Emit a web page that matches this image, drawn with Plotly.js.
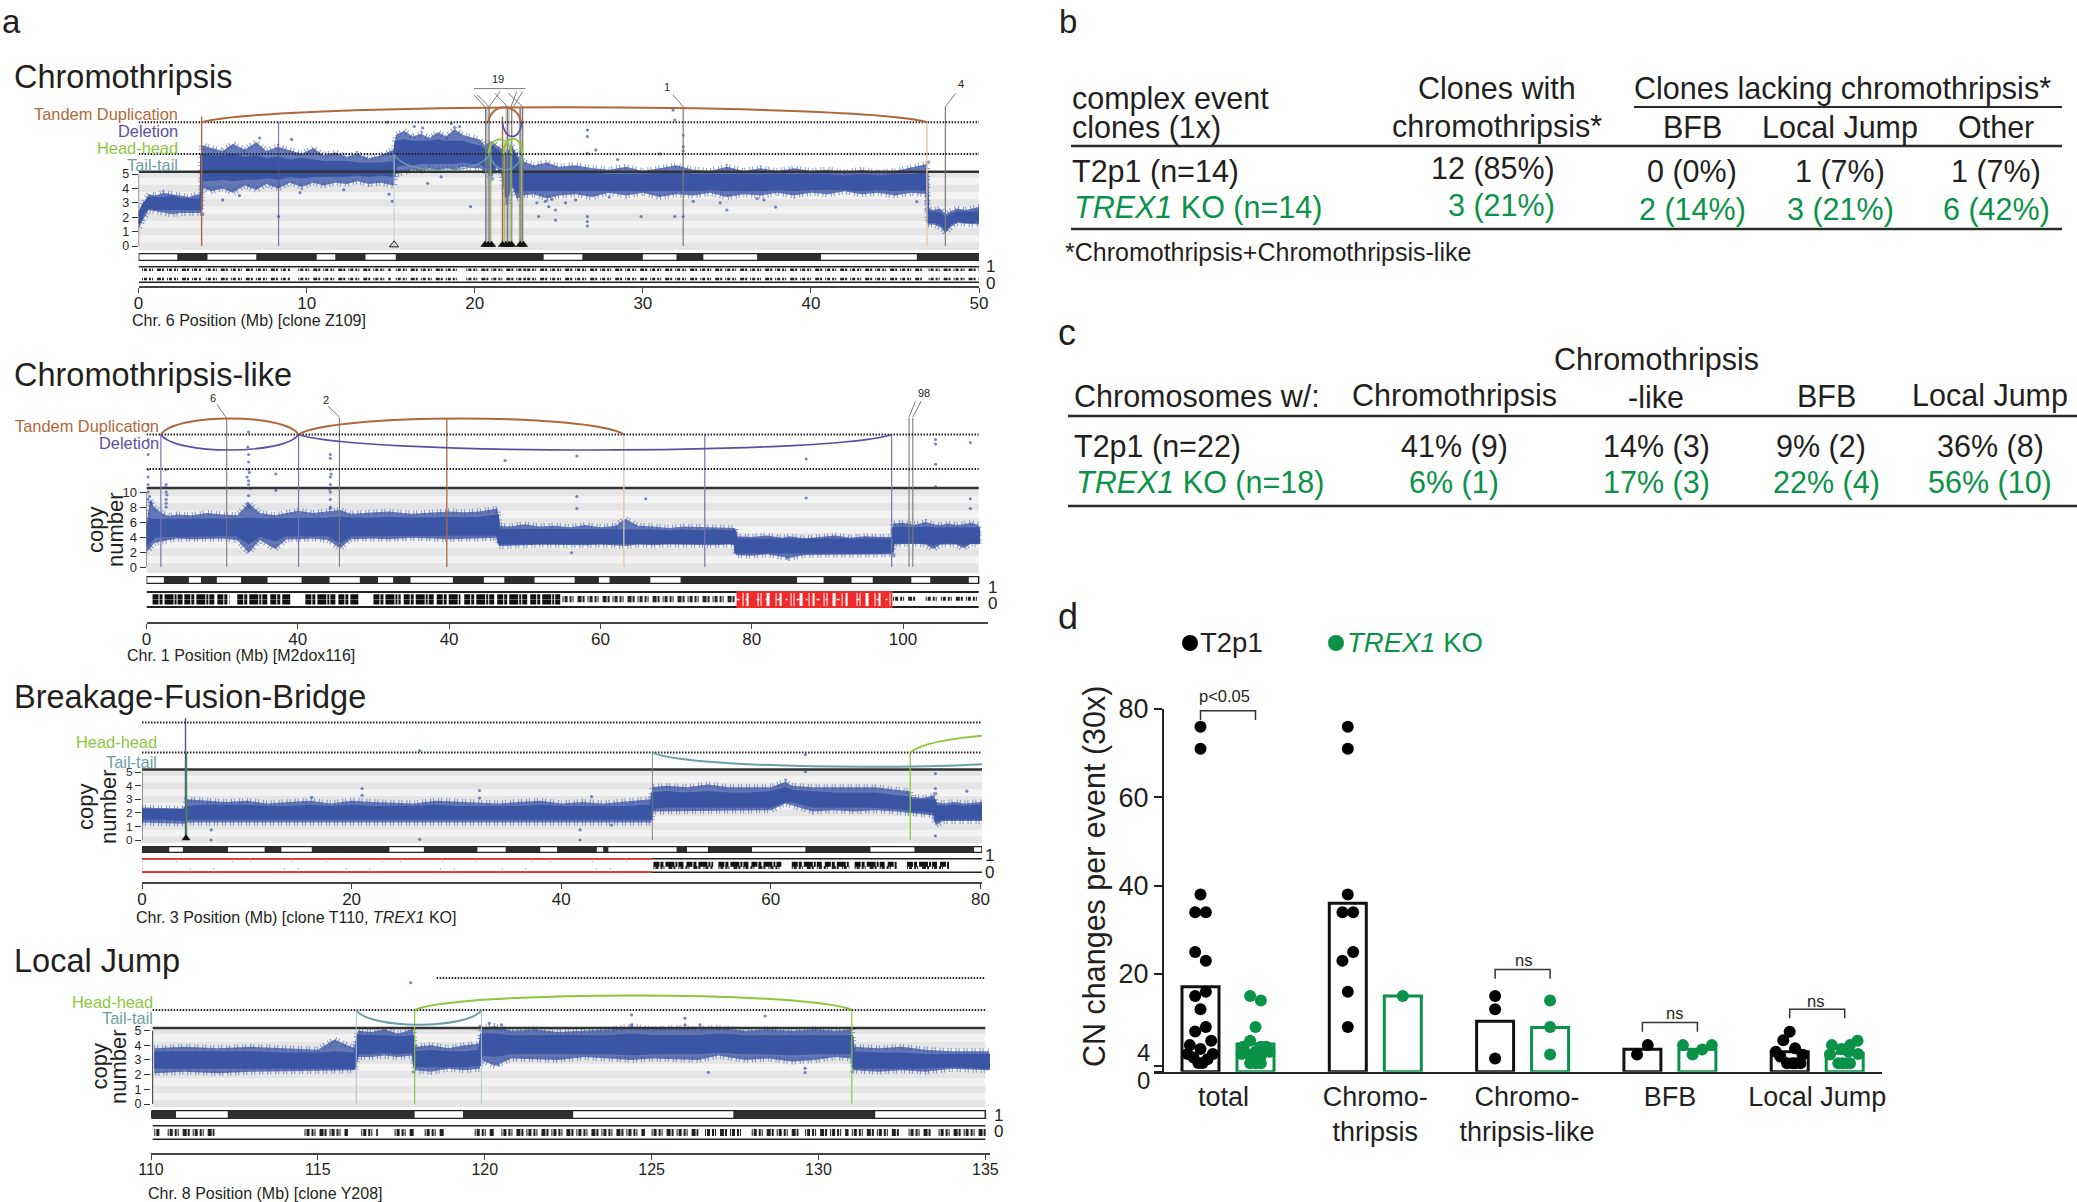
<!DOCTYPE html>
<html><head><meta charset="utf-8">
<script src="https://cdn.plot.ly/plotly-3.0.1.min.js"></script>
<style>html,body{margin:0;padding:0;background:#fff}</style></head>
<body><div id="chart" style="width:2077px;height:1202px"></div>
<script>
/* ---------- panel d values ---------- */
const dCategories=['total','Chromo-<br>thripsis','Chromo-<br>thripsis-like','BFB','Local Jump'];
const dMeanT2p1=[17.1,36,9.3,2.95,2.4];
const dMeanTrex=[4.15,15,7.9,2.95,2.05];
const dT2p1Total=[76,71,38,34,34,25,23,16,15,12,8,7,4.9,3.9,3,1.9,1.9,1.1,0.7,-0.15,-0.15];
const dT2p1TotalOff=[0,0,0,-1,1,-1,1,1,-1,0,1,-1,2,-2,0,2.3,-2.4,-1.3,1.3,-0.4,0.4];
const dTrexTotal=[15,14,8,4.9,3.55,3.55,3.55,2.4,2.4,2.4,1.9,1.45,1.45,0.7,0.7,-0.2,-0.2,-0.2];
const dTrexTotalOff=[-1,1,0,-1,-2.3,1,2,-2,0,2.6,-2.6,-1,1,-0.5,0.5,-1,0,1];
const dT2p1Chromo=[76,71,38,34,34,25,23,16,8];
const dT2p1ChromoOff=[0,0,0,-1,1,1,-1,0,0];
const dTrexChromo=[15];
const dTrexChromoOff=[0];
const dT2p1Like=[15,12,0.85];
const dT2p1LikeOff=[0,0,0];
const dTrexLike=[14,8,1.8];
const dTrexLikeOff=[0,0,0];
const dT2p1Bfb=[3.9,1.8];
const dT2p1BfbOff=[1,-1];
const dTrexBfb=[3.9,1.8,2.9,3.9];
const dTrexBfbOff=[-2.7,-0.9,0.9,2.7];
const dT2p1Jump=[6.9,5,3.2,2.4,1.7,1.3,-0.2,-0.2,-0.2,-0.2];
const dT2p1JumpOff=[0,-1.2,1,-2.6,2.4,-1.75,-0.5,0.5,1,2];
const dTrexJump=[4.9,3.9,3.9,3,2.4,1.9,1.8,-0.2,-0.2,-0.2,-0.2];
const dTrexJumpOff=[2.4,-2.4,1,-0.6,0.7,2.5,-2.75,-1.2,-0.4,0.4,1];
const dTicks=[20,40,60,80];

/* ---------- tables ---------- */
const bRowNames=['T2p1 (n=14)','<i>TREX1</i> KO (n=14)'];
const bClonesWith=['12 (85%)','3 (21%)'];
const bBfb=['0 (0%)','2 (14%)'];
const bJump=['1 (7%)','3 (21%)'];
const bOther=['1 (7%)','6 (42%)'];
const cRowNames=['T2p1 (n=22)','<i>TREX1</i> KO (n=18)'];
const cChromo=['41% (9)','6% (1)'];
const cLike=['14% (3)','17% (3)'];
const cBfb=['9% (2)','22% (4)'];
const cJump=['36% (8)','56% (10)'];

/* ---------- panel a.1: chr6 copy number envelopes ---------- */
const p1X=[0,.3,.6,1,1.5,2,2.5,3,3.5,3.72, 3.75,4.3,5,5.6,6.3,7,7.6,8.3,9,9.7,10.4,11,11.7,12.4,13,13.7,14.4,15.2, 15.3,15.8,16.3,16.8,17.3,17.8,18.3,18.8,19.3,19.8,20.3,20.6, 21,21.3,21.6,21.9,22.2,22.5,22.8, 22.85,23.5,24.3,25,26,27,28,29,30,31,32,33,34,35,36,37,38,39,40,41,42,43,44,45,46,46.9, 46.95,47.3,47.7,48,48.3,48.7,49.2,49.7,50];
const p1OutHi=[2.4,3.1,3.6,3.5,3.7,3.6,3.5,3.4,3.6,3.5, 7.0,6.8,6.6,7.1,6.7,7.2,6.6,6.9,6.6,6.4,6.8,6.3,6.5,6.2,6.4,6.1,6.3,6.7, 7.7,8.0,7.6,7.8,7.5,7.9,7.6,8.1,7.7,7.6,7.4,7.0, 7.3,7.0,6.8,6.5,7.0,6.4,5.8, 5.9,5.6,5.8,5.5,5.6,5.4,5.3,5.5,5.2,5.4,5.6,5.3,5.2,5.5,5.2,5.4,5.2,5.4,5.2,5.3,5.1,5.3,5.1,5.2,5.5,5.7, 2.6,2.5,2.6,2.2,2.4,2.6,2.5,2.6,2.7];
const p1OutLo=[1.2,1.9,2.5,2.4,2.3,2.2,2.3,2.4,2.3,2.3, 4.1,3.8,4.0,3.7,4.2,3.9,4.3,4.0,4.4,4.1,4.4,4.2,4.4,4.3,4.5,4.3,4.4,4.2, 5.0,5.1,5.3,5.2,5.4,5.2,5.4,5.3,5.5,5.4,5.4,5.2, 4.8,5.4,5.0,2.8,4.2,3.3,3.4, 3.5,3.6,3.3,3.5,3.6,3.4,3.7,3.5,3.7,3.4,3.6,3.5,3.7,3.4,3.6,3.5,3.7,3.5,3.7,3.6,3.8,3.6,3.7,3.5,3.7,3.6, 1.5,1.5,1.3,0.9,1.3,1.6,1.5,1.5,1.5];
const p1InHi=[2.1,2.9,3.3,3.3,3.3,3.4,3.2,3.2,3.2,3.2, 6.3,6.2,6.2,6.3,6.1,6.2,6.0,6.1,5.9,6.0,5.9,5.8,5.8,5.8,5.7,5.7,5.7,5.8, 7.2,7.3,7.2,7.2,7.2,7.3,7.2,7.2,7.2,7.0,6.9,6.6, 6.9,6.6,6.4,6.1,6.6,6.0,5.4, 5.0,5.0,5.0,5.0,5.0,5.0,4.9,4.9,4.9,5.0,5.0,4.9,4.9,4.9,4.9,4.9,4.9,4.9,4.9,4.9,4.8,4.9,4.8,4.9,4.9,5.0, 2.3,2.3,2.2,1.9,2.1,2.3,2.3,2.3,2.3];
const p1InLo=[1.6,2.3,2.7,2.6,2.6,2.6,2.6,2.6,2.6,2.6, 4.7,4.6,4.7,4.6,4.7,4.7,4.8,4.7,4.9,4.8,4.9,4.9,4.9,4.9,5.0,4.9,5.0,4.9, 5.6,5.7,5.7,5.8,5.8,5.8,5.8,5.8,5.9,5.8,5.8,5.6, 5.2,5.8,5.4,3.4,4.8,3.8,3.8, 3.9,3.9,3.9,3.9,3.9,3.9,3.9,3.9,3.9,3.9,3.9,3.9,4.0,3.9,3.9,3.9,4.0,3.9,4.0,4.0,4.0,3.9,4.0,3.9,4.0,3.9, 1.7,1.7,1.6,1.2,1.6,1.8,1.7,1.7,1.8];
const p1StrayX=[8.33,31.9,32.4,29.9,26.7,26.7,26.7,31.9,32.4,31.8,26.7,26.7,27.2,26.7,24.8,24.8,23.8,23.7,24.4,5,19.75,17.2,16.4,19.1,14.8,35,37.9,34.6,46.3,24.2,24.6,25.4,26,28,28.5,31,32.4,32.4,33,36.8,37.2,6,7.2,9.1,9.6,12.2,14.9,15.1,16.9,18,18.6];
const p1StrayY=[2.04,2.04,2.04,2.04,2.04,1.7,1.39,8.75,7.7,9.44,8.05,7.6,6.67,6.43,1.8,2.5,2.04,3,2.73,3.2,2.73,4.35,8.3,8.3,8.6,2.5,2.7,3,3.08,3.1,3.25,3,3.2,3.4,6,6.4,6.6,6.9,3.1,3.3,3.2,3.5,7.5,7.4,3.7,3.9,3.6,3.1,8.2,4.8,8.5];
const p1Dark0=[2.3,7.0,11.7,15.3,26.4,32.0,36.8,46.3];
const p1Dark1=[4.1,10.6,13.5,24.1,30.0,33.6,40.6,50];
const p1Tandem=[[3.75,46.9,9.63],[20.8,22.75,9.63]];
const p1Deletion=[[21.65,22.8,7.6]];
const p1HeadHead=[[20.8,22.2,7.4],[21.7,22.85,7.45]];
const p1TailTail=[[15.2,20.9,5.25],[20.9,22.8,5.3]];
const p1GrayLines=[20.65,20.85,21.95,22.2,22.7,22.85,32.4,48.0];
const p1BrownLines=[3.75,21.65];
const p1PeachLines=[46.9];
const p1PurpleLines=[8.33];
const p1TealLines=[15.2];
const p1GreenLines=[20.95,21.75,22.15,22.78];
const p1Columns=[20.75,21.95,22.75];
const p1Leaders=[[20.6,9.67,19.95,10.5],[20.85,9.67,20.15,10.5],[20.85,9.67,21.5,10.72],[21.95,9.67,21.2,10.6],[22.15,9.67,22.5,10.72],[22.85,9.67,22.0,10.6],[22.3,9.67,22.85,10.72],[32.4,9.67,31.8,10.49],[48,9.67,48.6,10.6],[19.95,10.93,23,10.93]];
const p1Hollow=[15.2];
const p1Solid=[20.6,20.8,21.0,21.65,21.85,22.05,22.2,22.7,22.9];
const p1LohStart=[0.2,4,9.5,15.3,19.5,23,47];
const p1LohEnd=[3.7,9,15,19,23,46.6,50];

/* ---------- panel a.2: chr1 ---------- */
const p2X=[0,.5,1,2,3,4,6,8,10,12,13.5,15,17,18.5,20,22,24,25.6,27,30,32,35,38,40,42,44,46.4, 46.6,48,50,52,54,56,58,60,62,63.3,65,67,69,71,73,75,77,77.8, 77.9,80,82,84,85,87,89,91,93,95,97,98.6, 98.7,100,101.5,103,104,105,106,107,108,109,110];
const p2OutHi=[6,9,8,7.2,6.8,7,6.9,7.2,7,6.9,8.5,7.2,6.9,7.1,7.5,7.2,7.4,7.6,7.1,7.3,7.4,7.1,7.3,7.4,7.3,7.4,7.8, 5.5,5.4,5.7,5.4,5.5,5.3,5.6,5.3,5.5,6.4,5.5,5.4,5.2,5.4,5.3,5.4,5.3,5.2, 4.1,4,4.2,3.9,4.1,3.8,4,4.2,3.9,4.1,4,4, 5.8,5.9,5.6,6,5.7,5.6,5.8,5.6,5.7,5.9,5.6];
const p2OutLo=[2,2.5,3.2,3.6,3.6,3.8,3.7,3.7,3.8,3.6,1.9,3.6,2.4,3.7,3.7,3.8,3.6,2.5,3.7,3.8,3.7,3.9,3.8,3.7,3.9,3.8,3.9, 2.8,2.9,2.9,3,2.9,3,2.9,3,2.9,2.8,3,2.9,3,2.9,3,2.9,3,2.9, 1.6,1.5,1.7,1.4,1.2,1.6,1.7,1.6,1.7,1.7,1.7,1.7, 3,3,3.1,3,2.4,3,3.1,3,2.5,3.1,3];
const p2InHi=[5,6.3,6.2,6.2,6.2,6.2,6.3,6.3,6.3,6.3,6.4,6.3,6.3,6.3,6.4,6.4,6.4,6.5,6.4,6.4,6.5,6.4,6.4,6.5,6.4,6.5,6.8, 4.9,4.9,4.9,4.8,4.9,4.8,4.9,4.8,4.8,4.9,4.8,4.8,4.7,4.8,4.7,4.8,4.7,4.7, 3.6,3.6,3.6,3.5,3.5,3.5,3.5,3.5,3.5,3.6,3.6,3.6, 5.1,5.2,5.1,5.2,5.1,5.1,5.1,5.1,5.1,5.2,5.1];
const p2InLo=[3,3.4,4.1,4.2,4.2,4.3,4.3,4.3,4.3,4.3,3.2,4.3,3.6,4.3,4.3,4.3,4.3,3.4,4.3,4.4,4.3,4.4,4.4,4.4,4.4,4.4,4.4, 3.2,3.3,3.3,3.3,3.3,3.3,3.3,3.3,3.3,3.3,3.3,3.3,3.3,3.3,3.3,3.3,3.3,3.3, 2,2,2,2,1.9,2,2,2,2,2,2,2.1, 3.3,3.3,3.3,3.3,3.1,3.3,3.3,3.3,3.1,3.3,3.3];
const p2StrayX=[13.5,13.5,13.5,13.3,13.5,13.7,13.5,13.4,13.6,13.5,13.4,13.6,13.5, 24.3,24.3,24.3,24.3,24.3,24.3,24.3,24.3,24.3,24.4,24.2, 2.6,2.6,2.6,2.6,2.6,2.6,2.7,2.5, .2,.2,.2,.2,.2,.2,.2,.2,.4,.6, 47.4,56.9,87.2,104.3,104.3,108.9,104.3,104.3,56.9,56.9,66,87.2,108.9,108.9,56.2,84.7,17.1,17.1];
const p2StrayY=[15,14,13,12,11.5,10.5,9.5,8.5,8,18,16,12.6,11, 15,14.5,13,12,11,10,9,8,7.8,12.4,10.4, 13,11,10,9,8.5,8,9.6,10.6, 19,17,15,13,12,11,10,9,9.4,8.6, 14.2,14.8,14.4,17,16.4,16.6,13.7,10.7,9.4,7.8,9.1,9.2,9.1,7.8,1.9,1.2,12.4,10.2];
const p2Dark0=[2.3,7.2,12.5,20.5,28.2,32.6,40.5,47.3,56.6,61.2,70.6,89.5,96,103.6];
const p2Dark1=[5.6,9.3,16,24.2,30.6,34.9,44.6,51.3,59.8,66.6,86,93.2,101.1,108.7];
const p2Tandem=[[1.9,20.1,19.8],[20.1,63.1,19.8]];
const p2Deletion=[[1.9,20.1,15.6],[20.1,98.5,15.6]];
const p2GrayLines=[10.6,25.5,100.8,101.3];
const p2BrownLines=[39.7];
const p2PeachLines=[63.1];
const p2PurpleLines=[1.9,20.1,73.8,98.5];
const p2Leaders=[[10.6,19.82,9.3,21.7],[25.5,20,24,21.45],[100.8,20,101.65,22.1],[101.3,20,102.4,22.1]];
const p2LohStart=[0.8,5,12,21,30,34,42];
const p2LohEnd=[4.8,11,19,28,33.6,41.5,55];
const p2ThinStart=[55];
const p2ThinEnd=[78];
const p2RedStart=[78];
const p2RedEnd=[98.6];
const p2SparseStart=[98.7,103,105];
const p2SparseEnd=[102,104.5,110];

/* ---------- panel a.3: chr3 ---------- */
const p3X=[0,2,4,4.3,6,8,10,12,14,16,18,20,22,24,26,28,30,32,34,36,38,40,42,44,46,48,48.6, 48.7,50,52,54,56,58,60,61.4,62,64,66,68,70,72,73.3, 73.4,74.5,75.6, 75.7,76.5,77.5,78.5,79.5,80.2];
const p3OutHi=[2.4,2.4,2.3,3,2.9,2.8,2.9,2.7,2.8,2.9,2.7,2.9,2.8,2.8,2.7,2.9,2.8,2.8,2.7,2.8,2.9,2.7,2.8,2.7,2.8,2.9,3, 3.9,4,3.9,4.1,3.9,3.9,3.9,4.3,4,3.9,3.9,4,3.9,3.7,3.6, 3.2,3.1,3.3, 2.8,2.7,2.8,2.7,2.8,2.8];
const p3OutLo=[1.3,1.3,1.2,1.3,1.4,1.4,1.3,1.4,1.3,1.4,1.3,1.4,1.4,1.3,1.4,1.3,1.4,1.3,1.4,1.3,1.4,1.3,1.4,1.4,1.3,1.3,1.3, 2.1,2.2,2.2,2.1,2.2,2.2,2.2,2.7,2.6,2.1,2.2,2.1,2.2,2.1,2, 1.9,1.9,1.8, 1.1,1.4,1.4,1.3,1.4,1.4];
const p3InHi=[2.2,2.2,2.2,2.4,2.5,2.5,2.5,2.4,2.4,2.5,2.4,2.5,2.4,2.4,2.4,2.5,2.4,2.4,2.4,2.4,2.5,2.4,2.4,2.4,2.4,2.5,2.5, 3.4,3.5,3.4,3.5,3.4,3.4,3.5,3.8,3.6,3.5,3.4,3.4,3.4,3.2,3.1, 2.9,2.9,2.9, 2.5,2.4,2.5,2.4,2.5,2.5];
const p3InLo=[1.6,1.6,1.5,1.6,1.6,1.6,1.6,1.6,1.6,1.6,1.6,1.6,1.6,1.6,1.6,1.6,1.6,1.6,1.6,1.6,1.6,1.6,1.6,1.6,1.6,1.6,1.6, 2.4,2.5,2.5,2.5,2.5,2.5,2.5,2.9,2.9,2.5,2.5,2.5,2.5,2.4,2.3, 2.2,2.2,2.1, 1.5,1.6,1.6,1.6,1.6,1.6];
const p3StrayX=[21,21,32.2,32.2,26.5,6.6,6.6,41.8,41.8,42.9,16.2,63.3,63.3,75.7,75.7,75.7,78.7,26.5,44.8];
const p3StrayY=[3.8,3.3,3.65,3.1,.05,.74,0,.74,0,3.2,3.15,6.3,5.05,4.9,3.8,.3,3.6,6.6,1.1];
const p3Dark0=[0,3.9,11.7,16.2,26.9,34.7,39.6,44,51,54,63.3,73.7];
const p3Dark1=[2.6,8.2,13.3,23.6,32,38,43.4,44.5,52,58.2,69.5,79.4];
const p3HeadHead=[[73.3,100,7.9]];
const p3TailTail=[[48.7,89.3,5.4]];
const p3GreenLines=[73.3];
const p3GrayLines=[48.7];
const p3BlueLines=[4.15];
const p3LateGreen=[4.25];
const p3Solid=[4.2];
const p3RedStart=[0];
const p3RedEnd=[48.7];
const p3LohStart=[48.8,55,62,68,73];
const p3LohEnd=[54.5,61,67.5,72,77];

/* ---------- panel a.4: chr8 ---------- */
const p4X=[110.1,111,112,113,114,115,115.5,116.1, 116.2,116.6,117,117.4,117.85, 117.9,118.4,118.9,119.4,119.85, 119.9,120.3,120.8,121.5,122.2,123,123.8,124.4,125,125.7,126.4,127,127.8,128.5,129.2,129.9,130.5,131, 131.05,131.8,132.5,133.2,134,135.1];
const p4OutHi=[3.8,3.9,3.8,3.9,3.8,3.7,4.4,3.8, 5,4.9,5.1,4.8,5.1, 3.9,4,3.8,4,4.1, 5.2,5.3,5,5.1,4.9,5,5.1,5.3,5.1,5.2,5.1,5.2,5,5.1,5,5.1,5,5.1, 3.9,3.8,3.9,3.7,3.6,3.6];
const p4OutLo=[2.1,2.2,2.1,2.2,2.2,2.3,2.3,2.3, 3.2,3.2,3.3,3.2,3.3, 2.3,2.2,2.4,2.3,2.4, 3,2.6,3.1,3.1,3,3.2,3.1,3,3.1,3.1,3,3.3,3,3.1,2.9,3,3.2,3.1, 2.3,2.2,2.3,2.2,2.4,2.3];
const p4InHi=[3.5,3.5,3.5,3.5,3.4,3.4,3.5,3.4, 4.6,4.6,4.6,4.5,4.6, 3.5,3.6,3.5,3.5,3.6, 4.7,4.7,4.6,4.6,4.6,4.6,4.6,4.7,4.6,4.6,4.6,4.7,4.6,4.6,4.6,4.6,4.6,4.6, 3.5,3.4,3.4,3.3,3.3,3.3];
const p4InLo=[2.5,2.5,2.5,2.5,2.5,2.5,2.5,2.5, 3.5,3.5,3.6,3.5,3.6, 2.6,2.6,2.6,2.6,2.7, 3.4,3.3,3.5,3.5,3.5,3.5,3.5,3.4,3.5,3.5,3.5,3.6,3.5,3.5,3.4,3.5,3.5,3.5, 2.5,2.5,2.5,2.5,2.6,2.5];
const p4StrayX=[117.78,124.4,126,128.4,126.7,129.6,129.6,120.14,120.4,126,126.45,120.5,124.4];
const p4StrayY=[8.27,6.07,5.84,6,2.16,2.43,2.14,5.5,2.66,5.39,5.39,5.4,5.4];
const p4Dark0=[110,112.3,119.35,127.45];
const p4Dark1=[110.75,117.9,122.65,131.7];
const p4HeadHead=[[117.9,131,7.4]];
const p4TailTail=[[116.15,119.9,5.4]];
const p4GreenLines=[117.9,131];
const p4TealLines=[116.15,119.9];
const p4LohStart=[110.1,110.5,114.6,116.3,117.3,118.2,119.7,120.5,125,126.6,128,129.6,131,132.7,133.6];
const p4LohEnd=[110.3,111.9,115.9,116.8,117.9,118.8,120.3,124.8,126.4,127.8,129.4,130.9,132.5,133.4,135.1];

/* ---------- layout constants ---------- */
const W=2077,H=1202;
const INK='#231f20',BLUE='#3b55a5',GREEN='#0b9249';
const BROWN='#b0683a',PEACH='#e8c4a4',PURPLE='#5a4fa2',LIME='#8cc63f',TEAL='#6c9ea3',GRAY='#7a7a7a';
const FONT='"Liberation Sans",Arial,sans-serif';
const SPECK='1px,1px,3px,2px,2px,1px,1px,4px,4px,1px,2px,3px';
const BLOCK='6px,1px,3px,2px,9px,1px,2px,1px,5px,3px';
const px2x=p=>p/W, px2y=p=>1-p/H;
const traces=[],shapes=[],annotations=[];
const layout={width:W,height:H,margin:{l:0,r:0,t:0,b:0},paper_bgcolor:'#fff',plot_bgcolor:'rgba(0,0,0,0)',showlegend:false,barmode:'overlay',font:{family:FONT,color:INK},shapes,annotations,hovermode:false};

function note(text,x,y,size,opt={}){
  annotations.push(Object.assign({text,x:px2x(x),y:px2y(y),xref:'paper',yref:'paper',xanchor:'left',yanchor:'middle',showarrow:false,borderpad:0,font:{size,family:FONT,color:opt.color||INK}},opt.a||{}));
}
const C={a:{xanchor:'center'}},R={a:{xanchor:'right'}},V={a:{xanchor:'center',textangle:-90}};
const line=(xa,ya,x,y,color,width,dash)=>traces.push({type:'scatter',mode:'lines',x,y,xaxis:xa,yaxis:ya,line:{color,width,dash:dash||'solid'},hoverinfo:'skip'});
function band(xa,ya,xs,hi,lo,col,edge){
  traces.push({type:'scatter',mode:'lines',fill:'toself',fillcolor:col,line:Object.assign({width:0,color:col},edge||{}),x:xs.concat(xs.slice().reverse()),y:hi.concat(lo.slice().reverse()),xaxis:xa,yaxis:ya,hoverinfo:'skip'});
}
function vlines(xa,ya,xs,y0,y1,color,width){const x=[],y=[];xs.forEach(v=>{x.push(v,v,null);y.push(y0,y1,null)});line(xa,ya,x,y,color,width)}
function segs(xa,ya,s,e,yv,color,width,dash){const x=[],y=[];s.forEach((v,i)=>{x.push(v,e[i],null);y.push(yv,yv,null)});line(xa,ya,x,y,color,width,dash)}
function leaders(xa,ya,list,color,width){const x=[],y=[];list.forEach(l=>{x.push(l[0],l[2],null);y.push(l[1],l[3],null)});line(xa,ya,x,y,color,width)}
function arcs(xa,ya,list,base,color,width){
  list.forEach(a=>{const w=a[1]-a[0],c=base+(a[2]-base)/0.75;
    shapes.push({type:'path',xref:xa,yref:ya,line:{color,width},path:`M ${a[0]} ${base} C ${a[0]+0.1*w} ${c}, ${a[1]-0.1*w} ${c}, ${a[1]} ${base}`});});
}
function stray(xa,ya,x,y){traces.push({type:'scatter',mode:'markers',x,y,xaxis:xa,yaxis:ya,marker:{size:3.2,color:'rgba(59,85,165,0.7)'},hoverinfo:'skip'})}

function panel(p){
  const n=p.n,xa='x'+(n===1?'':n),yc=3*n-2,yi=3*n-1,yl=3*n;
  const ya='y'+(yc===1?'':yc),yia='y'+yi,yla='y'+yl;
  const suffix=v=>v===1?'':v;
  layout['xaxis'+suffix(n)]={domain:[px2x(p.left),px2x(p.right)],range:p.xr,anchor:'free',position:px2y(p.axisY),showline:true,linecolor:'#444',linewidth:2,ticks:'outside',ticklen:5,tickwidth:1,tickcolor:'#444',tickvals:p.tickvals,ticktext:p.ticktext,tickfont:{size:p.tf||17,family:FONT,color:INK},ticklabelstandoff:-4,showgrid:false,zeroline:false,fixedrange:true,tickangle:0};
  const lo=(p.y0-p.bottom)/p.unit,hi=(p.y0-p.top)/p.unit;
  layout['yaxis'+suffix(yc)]={domain:[px2y(p.bottom),px2y(p.top)],range:[lo,hi],anchor:xa,showline:false,ticks:'outside',ticklen:6,tickwidth:1,tickcolor:'#333',tickvals:p.yticks,ticktext:p.yticks.map(String),tickfont:{size:p.ytf,family:FONT,color:INK},showgrid:false,zeroline:false,fixedrange:true};
  layout['yaxis'+yi]={domain:[px2y(p.ideo[1]),px2y(p.ideo[0])],range:[-.5,.5],anchor:xa,visible:false,fixedrange:true};
  layout['yaxis'+yl]={domain:[px2y(p.loh[1]),px2y(p.loh[0])],range:[0,1],anchor:xa,visible:false,fixedrange:true};
  const s=p.stripe; const xe=p.end, xs=p.start;
  shapes.push({type:'rect',layer:'below',xref:xa,yref:ya,x0:xs,x1:xe,y0:lo,y1:p.ceil,fillcolor:'#f3f3f3',line:{width:0}});
  for(let v=-s/2;v<p.ceil-s/4;v+=2*s){shapes.push({type:'rect',layer:'below',xref:xa,yref:ya,x0:xs,x1:xe,y0:v===-s/2?lo:v,y1:Math.min(v+s,p.ceil),fillcolor:'#e5e5e5',line:{width:0}});}
  shapes.push({type:'line',xref:xa,yref:ya,x0:p.dotFrom||xs,x1:xe,y0:p.dot[0],y1:p.dot[0],line:{color:'#222',width:2,dash:'1.5px,1.5px'}});
  shapes.push({type:'line',xref:xa,yref:ya,x0:xs,x1:xe,y0:p.dot[1],y1:p.dot[1],line:{color:'#222',width:2,dash:'1.5px,1.5px'}});
  /* copy number cloud: stippled outer edge, then a solid core */
  band(xa,ya,p.X,p.OutHi,p.OutLo,'rgba(59,85,165,0.78)',{width:6,color:'rgba(59,85,165,0.6)',dash:'1px,2px,1px,4px'});
  band(xa,ya,p.X,p.InHi,p.InLo,BLUE,{width:3,color:BLUE});
  stray(xa,ya,p.StrayX,p.StrayY);
  line(xa,ya,[xs,xe],[p.ceil,p.ceil],'#333',2.5);
  traces[traces.length-1].cliponaxis=false;
  line(xa,ya,[xs,xs],[0,p.yticks[p.yticks.length-1]],'#333',1);
  traces[traces.length-1].cliponaxis=false;
  shapes.push({type:'rect',xref:xa,yref:yia,layer:'below',x0:xs,x1:xe,y0:-.44,y1:.44,fillcolor:'#fff',line:{color:'#222',width:1.5}});
  traces.push({type:'bar',orientation:'h',y:p.Dark0.map(()=>0),x:p.Dark1.map((v,i)=>v-p.Dark0[i]),base:p.Dark0,width:.9,xaxis:xa,yaxis:yia,marker:{color:'#2e2e2e',line:{width:0}},hoverinfo:'skip'});
  line(xa,yla,[xs,xe],[.96,.96],'#222',p.rail||1.6);
  line(xa,yla,[xs,xe],[.04,.04],'#222',p.rail||1.6);
  note(p.title,13,p.titleY,32.5);
  note(p.xtitle,p.xtitleX,p.xtitleY,16);
  note('1',p.oneX,p.oneY,17,C);
  note('0',p.oneX,p.zeroY,17,C);
  return {xa,ya,yla,yia};
}

/* ---------- panel a.1 ---------- */
{
 const a=panel({n:1,ytf:12.5,left:138.6,right:979,xr:[0,50],start:0,end:50,y0:246,unit:14.4,top:70,bottom:250,ceil:5.15,stripe:.5,dot:[8.6,6.39],ideo:[253,261],loh:[266,283],axisY:287,tickvals:[0,10,20,30,40,50],yticks:[0,1,2,3,4,5],X:p1X,OutHi:p1OutHi,OutLo:p1OutLo,InHi:p1InHi,InLo:p1InLo,StrayX:p1StrayX,StrayY:p1StrayY,Dark0:p1Dark0,Dark1:p1Dark1,title:'Chromothripsis',titleY:77,xtitle:'Chr. 6 Position (Mb) [clone Z109]',xtitleX:131,xtitleY:320,oneX:990,oneY:266,zeroY:283});
 vlines(a.xa,a.ya,p1Columns,0,9.63,'rgba(140,140,140,0.4)',4.5);
 vlines(a.xa,a.ya,p1GrayLines,0,9.67,GRAY,1.2);
 vlines(a.xa,a.ya,p1BrownLines,0,9,BROWN,1.4);
 vlines(a.xa,a.ya,p1PeachLines,0,8.6,PEACH,1.4);
 vlines(a.xa,a.ya,p1PurpleLines,0,8.6,PURPLE,.9);
 vlines(a.xa,a.ya,p1TealLines,0,6.39,'#b8d2d4',1);
 vlines(a.xa,a.ya,p1GreenLines,0,7.2,'#93b866',1.3);
 leaders(a.xa,a.ya,p1Leaders,GRAY,1);
 arcs(a.xa,a.ya,p1Tandem,8.6,BROWN,2);
 arcs(a.xa,a.ya,p1Deletion,8.6,PURPLE,1.6);
 arcs(a.xa,a.ya,p1HeadHead,6.39,LIME,1.8);
 arcs(a.xa,a.ya,p1TailTail,6.39,TEAL,1.4);
 traces.push({type:'scatter',mode:'markers',x:p1Hollow,y:p1Hollow.map(()=>.08),xaxis:a.xa,yaxis:a.ya,cliponaxis:false,marker:{symbol:'triangle-up-open',size:8,color:'#222',line:{width:1}}});
 traces.push({type:'scatter',mode:'markers',x:p1Solid,y:p1Solid.map(()=>.08),xaxis:a.xa,yaxis:a.ya,cliponaxis:false,marker:{symbol:'triangle-up',size:8,color:'#111'}});
 segs(a.xa,a.yla,p1LohStart,p1LohEnd,.78,'#222',2.5,SPECK);
 segs(a.xa,a.yla,p1LohStart,p1LohEnd,.24,'#222',2.5,SPECK);
 note('Tandem Duplication',178.7,114,16.4,{color:BROWN,a:{xanchor:'right'}});
 note('Deletion',178.7,131,16.4,{color:PURPLE,a:{xanchor:'right'}});
 note('Head-head',178.7,147.7,16.4,{color:LIME,a:{xanchor:'right'}});
 note('Tail-tail',178.7,165,16.4,{color:TEAL,a:{xanchor:'right'}});
 note('19',498,79,11,C); note('1',667,87,11,C); note('4',961,84,11,C);
}
/* ---------- panel a.2 ---------- */
{
 const a=panel({n:2,ytf:13,left:146.5,right:987.5,xr:[0,111.17],start:0,end:110,y0:567,unit:7.5,top:380,bottom:573,ceil:10.55,stripe:1,dot:[17.67,13.08],ideo:[576,584],loh:[591,608],axisY:623,rail:2.6,tickvals:[0,20,40,60,80,100],ticktext:['0','40','40','60','80','100'],yticks:[0,2,4,6,8,10],X:p2X,OutHi:p2OutHi,OutLo:p2OutLo,InHi:p2InHi,InLo:p2InLo,StrayX:p2StrayX,StrayY:p2StrayY,Dark0:p2Dark0,Dark1:p2Dark1,title:'Chromothripsis-like',titleY:375,xtitle:'Chr. 1 Position (Mb) [M2dox116]',xtitleX:126,xtitleY:655,oneX:992,oneY:587,zeroY:603});
 vlines(a.xa,a.ya,p2GrayLines,0,19.9,GRAY,1.1);
 vlines(a.xa,a.ya,p2BrownLines,0,19.8,BROWN,1.3);
 vlines(a.xa,a.ya,p2PeachLines,0,17.67,PEACH,1.3);
 vlines(a.xa,a.ya,p2PurpleLines,0,17.67,'#7a72b5',1.2);
 leaders(a.xa,a.ya,p2Leaders,GRAY,1);
 arcs(a.xa,a.ya,p2Tandem,17.67,BROWN,2);
 arcs(a.xa,a.ya,p2Deletion,17.67,PURPLE,1.7);
 segs(a.xa,a.yla,p2LohStart,p2LohEnd,.66,'#111',5,BLOCK);
 segs(a.xa,a.yla,p2LohStart,p2LohEnd,.36,'#111',5,BLOCK);
 segs(a.xa,a.yla,p2ThinStart,p2ThinEnd,.6,'#222',3.5,SPECK);
 segs(a.xa,a.yla,p2ThinStart,p2ThinEnd,.42,'#222',3,SPECK);
 segs(a.xa,a.yla,p2RedStart,p2RedEnd,.5,'#ee2a2a',16,BLOCK);
 segs(a.xa,a.yla,p2RedStart,p2RedEnd,.5,'#ffffff',1.5,'3px,6px,2px,9px');
 line(a.xa,a.yla,[p2RedStart[0],p2RedEnd[0]],[.96,.96],'#ee2a2a',2.6);
 line(a.xa,a.yla,[p2RedStart[0],p2RedEnd[0]],[.04,.04],'#ee2a2a',2.6);
 segs(a.xa,a.yla,p2SparseStart,p2SparseEnd,.55,'#222',4,SPECK);
 note('Tandem Duplication',159.7,426,16.4,{color:BROWN,a:{xanchor:'right'}});
 note('Deletion',159.7,443,16.4,{color:PURPLE,a:{xanchor:'right'}});
 note('6',213,398,11,C); note('2',326,400,11,C); note('98',924,393,11,C);
 note('copy',95,530,22,V); note('number',115,530,22,V);
}
/* ---------- panel a.3 ---------- */
{
 const a=panel({n:3,ytf:11.8,left:142,right:982,xr:[0,80.15],start:0,end:80.15,y0:840,unit:13.55,top:715,bottom:843,ceil:5.2,stripe:.5,dot:[8.67,6.45],ideo:[846,853],loh:[858,873],axisY:882.7,tickvals:[0,20,40,60,80],yticks:[0,1,2,3,4,5],X:p3X,OutHi:p3OutHi,OutLo:p3OutLo,InHi:p3InHi,InLo:p3InLo,StrayX:p3StrayX,StrayY:p3StrayY,Dark0:p3Dark0,Dark1:p3Dark1,title:'Breakage-Fusion-Bridge',titleY:697,xtitle:'Chr. 3 Position (Mb) [clone T110, <i>TREX1</i> KO]',xtitleX:135,xtitleY:917,oneX:989,oneY:855,zeroY:872});
 vlines(a.xa,a.ya,p3GrayLines,0,6.45,GRAY,.9);
 vlines(a.xa,a.ya,p3GreenLines,0,6.45,LIME,1.3);
 vlines(a.xa,a.ya,p3BlueLines,0,9,PURPLE,1.4);
 vlines(a.xa,a.ya,p3LateGreen,0,6.45,'#3d9a3d',1.4);
 arcs(a.xa,a.ya,p3HeadHead,6.45,LIME,2);
 arcs(a.xa,a.ya,p3TailTail,6.45,TEAL,2);
 traces.push({type:'scatter',mode:'markers',x:p3Solid,y:p3Solid.map(()=>.12),xaxis:a.xa,yaxis:a.ya,cliponaxis:false,marker:{symbol:'triangle-up',size:8,color:'#111'}});
 line(a.xa,a.yla,[p3RedStart[0],p3RedEnd[0]],[.96,.96],'#ee2a2a',1.8);
 line(a.xa,a.yla,[p3RedStart[0],p3RedEnd[0]],[.04,.04],'#ee2a2a',2.4);
 segs(a.xa,a.yla,p3RedStart,p3RedEnd,.75,'#f08080',1.2,'1px,33px,1px,55px,1px,17px,1px,41px');
 segs(a.xa,a.yla,p3RedStart,p3RedEnd,.28,'#f08080',1.2,'1px,47px,1px,22px,1px,70px,1px,13px');
 segs(a.xa,a.yla,p3LohStart,p3LohEnd,.58,'#111',5,BLOCK);
 segs(a.xa,a.yla,p3LohStart,p3LohEnd,.36,'#222',3,SPECK);
 note('Head-head',157.7,741.7,16.4,{color:LIME,a:{xanchor:'right'}});
 note('Tail-tail',157.7,762,16.4,{color:TEAL,a:{xanchor:'right'}});
 note('copy',85,807,22,V); note('number',108,807,22,V);
}
/* ---------- panel a.4 ---------- */
{
 const a=panel({n:4,ytf:12.5,left:151,right:985.5,xr:[110,135],start:110.05,end:135,y0:1104,unit:14.67,top:970,bottom:1107,ceil:5.18,stripe:.5,dot:[8.59,6.41],dotFrom:118.56,ideo:[1110,1119],loh:[1125,1140],axisY:1154,tf:16,tickvals:[110,115,120,125,130,135],yticks:[0,1,2,3,4,5],X:p4X,OutHi:p4OutHi,OutLo:p4OutLo,InHi:p4InHi,InLo:p4InLo,StrayX:p4StrayX,StrayY:p4StrayY,Dark0:p4Dark0,Dark1:p4Dark1,title:'Local Jump',titleY:961,xtitle:'Chr. 8 Position (Mb) [clone Y208]',xtitleX:147,xtitleY:1193,oneX:998,oneY:1115,zeroY:1131});
 layout.xaxis4.domain=[px2x(151),px2x(990)];
 layout.xaxis4.range=[110,135.14];
 vlines(a.xa,a.ya,p4TealLines,0,6.41,'#a9c8cc',1);
 vlines(a.xa,a.ya,p4GreenLines,0,6.41,LIME,1.2);
 arcs(a.xa,a.ya,p4HeadHead,6.41,LIME,2);
 arcs(a.xa,a.ya,p4TailTail,6.41,TEAL,2);
 segs(a.xa,a.yla,p4LohStart,p4LohEnd,.58,'#222',4.5,SPECK);
 segs(a.xa,a.yla,p4LohStart,p4LohEnd,.36,'#222',3,SPECK);
 note('Head-head',153.7,1001.7,16.4,{color:LIME,a:{xanchor:'right'}});
 note('Tail-tail',153.7,1018,16.4,{color:TEAL,a:{xanchor:'right'}});
 note('copy',98.5,1067,22,V); note('number',118,1067,22,V);
}

/* ---------- panel letters ---------- */
note('a',1,22,33); note('b',1058,22,33); note('c',1057,332,36); note('d',1057,616,36);

/* ---------- tables ---------- */
function rule(x0,x1,y,w){shapes.push({type:'line',xref:'paper',yref:'paper',x0:px2x(x0),x1:px2x(x1),y0:px2y(y),y1:px2y(y),line:{color:'#2b2b2b',width:w}});}
const TS=30.5;
note('complex event',1071,98,TS); note('clones (1x)',1071,127,TS);
note('Clones with',1497,88,TS,C); note('chromothripsis*',1497,126,TS,C);
note('Clones lacking chromothripsis*',1842,88,TS,C);
rule(1634,2062,107,2);
note('BFB',1692,127,TS,C); note('Local Jump',1840,127,TS,C); note('Other',1996,127,TS,C);
rule(1071,2062,146,2.5);
note(bRowNames[0],1071,172,TS); note(bRowNames[1],1073,207,TS,{color:GREEN});
note(bClonesWith[0],1556,169,TS,R); note(bClonesWith[1],1556,206,TS,{color:GREEN,a:{xanchor:'right'}});
[[bBfb,1692],[bJump,1840],[bOther,1996]].forEach(c=>{note(c[0][0],c[1],172,TS,C);note(c[0][1],c[1],209,TS,{color:GREEN,a:{xanchor:'center'}});});
rule(1071,2062,229,2.5);
note('*Chromothripsis+Chromothripsis-like',1064,252,25);

note('Chromothripsis',1656,360,TS,C); note('-like',1656,397,TS,C);
note('Chromosomes w/:',1073,396,TS); note('Chromothripsis',1454,396,TS,C); note('BFB',1826,396,TS,C); note('Local Jump',1990,396,TS,C);
rule(1068,2077,416,2.5);
note(cRowNames[0],1073,446,TS); note(cRowNames[1],1075,482,TS,{color:GREEN});
[[cChromo,1454,1454],[cLike,1656,1656],[cBfb,1821,1826],[cJump,1990,1990]].forEach(c=>{note(c[0][0],c[1],446,TS,C);note(c[0][1],c[2],482,TS,{color:GREEN,a:{xanchor:'center'}});});
rule(1068,2077,506,2.5);

/* ---------- panel d ---------- */
const dBottom=1071.7,d20=974,dPerUnit=4.417,dCenter=1228,dSpan=147.3;
const dFloor=20-(dBottom-d20)/dPerUnit, d4Mark=20-(1066-d20)/dPerUnit;
const dGap=27.5/dSpan,dBar=37/dSpan,dJit=5.35/dSpan;
layout.xaxis5={domain:[px2x(1154),px2x(1882)],range:[(1154-dCenter)/dSpan,(1882-dCenter)/dSpan],anchor:'y13',showline:true,linecolor:'#222',linewidth:2.5,ticks:'',tickvals:[-0.03,1,2.03,3,4],ticktext:dCategories,tickfont:{size:27,family:FONT,color:INK},tickangle:0,ticklabelstandoff:-1,showgrid:false,zeroline:false,fixedrange:true};
layout.yaxis13={domain:[px2y(dBottom),px2y(709)],range:[dFloor,80],anchor:'free',position:px2x(1163),showline:true,linecolor:'#222',linewidth:2,ticks:'outside',ticklen:8,tickwidth:2,tickcolor:'#222',tickvals:[dFloor,d4Mark].concat(dTicks),ticktext:['',''].concat(dTicks.map(String)),tickfont:{size:27,family:FONT,color:INK},showgrid:false,zeroline:false,fixedrange:true};
note('CN changes per event (30x)',1094,877,30.5,V);
const gIdx=[0,1,2,3,4];
traces.push({type:'bar',x:gIdx.map(i=>i-dGap),y:dMeanT2p1.map(v=>v-dFloor),base:dFloor,width:dBar,xaxis:'x5',yaxis:'y13',marker:{color:'rgba(255,255,255,0)',line:{color:'#111',width:3}},hoverinfo:'skip'});
traces.push({type:'bar',x:gIdx.map(i=>i+dGap),y:dMeanTrex.map(v=>v-dFloor),base:dFloor,width:dBar,xaxis:'x5',yaxis:'y13',marker:{color:'rgba(255,255,255,0)',line:{color:GREEN,width:3}},hoverinfo:'skip'});
function dots(idx,side,vals,offs,color){traces.push({type:'scatter',mode:'markers',x:vals.map((v,i)=>idx+side*dGap+offs[i]*dJit),y:vals,xaxis:'x5',yaxis:'y13',cliponaxis:false,marker:{size:12,color},hoverinfo:'skip'});}
dots(0,-1,dT2p1Total,dT2p1TotalOff,'#000'); dots(0,1,dTrexTotal,dTrexTotalOff,GREEN);
dots(1,-1,dT2p1Chromo,dT2p1ChromoOff,'#000'); dots(1,1,dTrexChromo,dTrexChromoOff,GREEN);
dots(2,-1,dT2p1Like,dT2p1LikeOff,'#000'); dots(2,1,dTrexLike,dTrexLikeOff,GREEN);
dots(3,-1,dT2p1Bfb,dT2p1BfbOff,'#000'); dots(3,1,dTrexBfb,dTrexBfbOff,GREEN);
dots(4,-1,dT2p1Jump,dT2p1JumpOff,'#000'); dots(4,1,dTrexJump,dTrexJumpOff,GREEN);
function bracket(idx,top,foot){line('x5','y13',[idx-dGap,idx-dGap,idx+dGap,idx+dGap],[foot,top,top,foot],'#333',1.5);traces[traces.length-1].cliponaxis=false;}
bracket(0,79.6,77.5); bracket(2,21,18.9); bracket(3,9,6.9); bracket(4,12,10);
note('p&lt;0.05',1224,696,16.5,C); note('ns',1523,960,16.5,C); note('ns',1674,1013,16.5,C); note('ns',1815,1000.7,16.5,C);
note('4',1143,1052,24,C); note('0',1143,1080,24,C);
shapes.push({type:'circle',xref:'paper',yref:'paper',x0:px2x(1182),x1:px2x(1198),y0:px2y(651),y1:px2y(635),fillcolor:'#000',line:{width:0}});
shapes.push({type:'circle',xref:'paper',yref:'paper',x0:px2x(1328),x1:px2x(1344),y0:px2y(651),y1:px2y(635),fillcolor:GREEN,line:{width:0}});
note('T2p1',1199,642,27.5); note('<i>TREX1</i> KO',1346,642,27.5,{color:GREEN});

Plotly.newPlot('chart',traces,layout,{staticPlot:true,displayModeBar:false});
</script></body></html>
